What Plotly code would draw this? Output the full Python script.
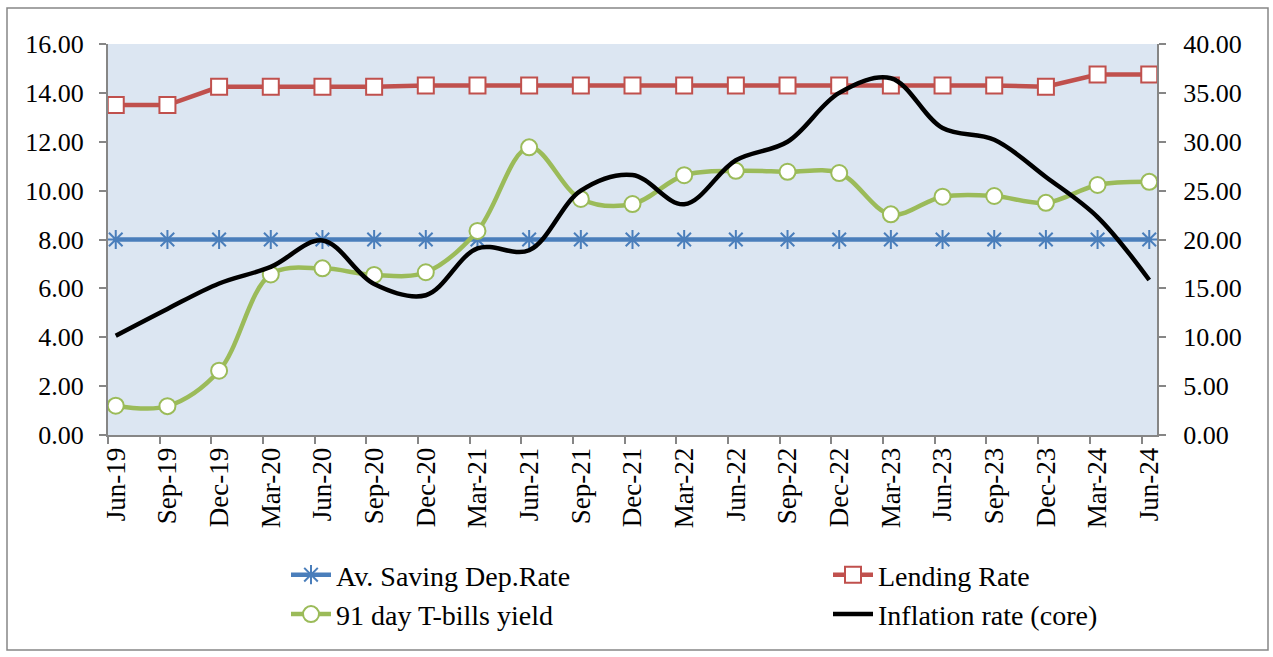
import plotly.graph_objects as go

categories = ["Jun-19", "Sep-19", "Dec-19", "Mar-20", "Jun-20", "Sep-20", "Dec-20",
              "Mar-21", "Jun-21", "Sep-21", "Dec-21", "Mar-22", "Jun-22", "Sep-22",
              "Dec-22", "Mar-23", "Jun-23", "Sep-23", "Dec-23", "Mar-24", "Jun-24"]

saving_rate = [8.0] * 21
lending_rate = [13.5, 13.5, 14.25, 14.25, 14.25, 14.25, 14.3, 14.3, 14.3, 14.3, 14.3,
                14.3, 14.3, 14.3, 14.3, 14.3, 14.3, 14.3, 14.25, 14.75, 14.75]
tbill_yield = [1.2, 1.18, 2.63, 6.57, 6.82, 6.55, 6.66, 8.35, 11.77, 9.66, 9.45,
               10.63, 10.81, 10.77, 10.72, 9.03, 9.75, 9.78, 9.5, 10.23, 10.36]
inflation_core = [10.16, 12.9, 15.5, 17.2, 19.9, 15.45, 14.3, 19.1, 18.9, 25.0, 26.6,
                  23.6, 28.1, 30.0, 35.0, 36.5, 31.4, 30.2, 26.4, 22.3, 15.86]

x = list(range(len(categories)))
FONT = "Liberation Serif"

# plot area in pixels
L, R, T, B = 108, 1157, 44, 435
W, H = 1273, 657
PW, PH = R - L, B - T


def px_x(p):
    return (p - L) / PW


def px_y(p):
    return (B - p) / PH


fig = go.Figure()
fig.add_trace(go.Scatter(
    x=x, y=saving_rate, name="Av. Saving Dep.Rate", mode="lines+markers",
    line=dict(color="#4A7EBB", width=4.5),
    marker=dict(symbol="asterisk-open", size=16, color="#4A7EBB",
                line=dict(color="#4A7EBB", width=2)),
    legend="legend",
))
fig.add_trace(go.Scatter(
    x=x, y=lending_rate, name="Lending Rate", mode="lines+markers",
    line=dict(color="#C0504D", width=4.5),
    marker=dict(symbol="square", size=16, color="white",
                line=dict(color="#C0504D", width=2)),
    legend="legend2",
))
fig.add_trace(go.Scatter(
    x=x, y=tbill_yield, name="91 day T-bills yield", mode="lines+markers",
    line=dict(color="#9BBB59", width=4.5, shape="spline", smoothing=1),
    marker=dict(symbol="circle", size=16, color="white",
                line=dict(color="#9BBB59", width=2)),
    legend="legend",
))
fig.add_trace(go.Scatter(
    x=x, y=inflation_core, name="Inflation rate (core)", mode="lines",
    line=dict(color="black", width=4.5, shape="spline", smoothing=1),
    yaxis="y2",
    legend="legend2",
))

axis_col = "#868686"
leg_common = dict(
    orientation="v", xanchor="left", yanchor="top",
    font=dict(size=28, family=FONT), bgcolor="rgba(0,0,0,0)",
    itemwidth=40, tracegroupgap=0,
)
fig.update_layout(
    width=W, height=H,
    margin=dict(l=L, r=W - R, t=T, b=H - B, autoexpand=False),
    paper_bgcolor="white",
    plot_bgcolor="#DCE6F2",
    font=dict(family=FONT, size=26, color="black"),
    xaxis=dict(
        range=[-0.15, 20.15], tickmode="array", tickvals=x, ticktext=categories,
        tickangle=-90, ticks="", showgrid=False, zeroline=False,
        showline=True, linecolor=axis_col, linewidth=2,
        tickfont=dict(size=27, family=FONT),
        minor=dict(tickmode="linear", tick0=-0.15, dtick=1, ticks="outside",
                   ticklen=7, tickcolor=axis_col, tickwidth=2, showgrid=False),
        ticklabelstandoff=0,
    ),
    yaxis=dict(
        range=[0, 16], dtick=2, tickformat=".2f", showgrid=False, zeroline=False,
        showline=True, linecolor=axis_col, linewidth=2,
        ticks="outside", ticklen=7, tickcolor=axis_col, tickwidth=2,
        tickfont=dict(size=26, family=FONT), ticklabelstandoff=10,
    ),
    yaxis2=dict(
        range=[0, 40], dtick=5, tickformat=".2f", overlaying="y", side="right",
        showgrid=False, zeroline=False,
        showline=True, linecolor=axis_col, linewidth=2,
        ticks="outside", ticklen=7, tickcolor=axis_col, tickwidth=2,
        tickfont=dict(size=26, family=FONT), ticklabelstandoff=12,
    ),
    legend=dict(x=px_x(286), y=px_y(550), **leg_common),
    legend2=dict(x=px_x(828), y=px_y(550), **leg_common),
    showlegend=True,
)

# outer chart border
fig.add_shape(type="rect", xref="paper", yref="paper",
              x0=px_x(7), x1=px_x(1268), y0=px_y(650), y1=px_y(8),
              line=dict(color=axis_col, width=1.5), fillcolor="rgba(0,0,0,0)",
              layer="below")

fig.write_html("out.html", config={"displayModeBar": False},
               post_script="document.body.style.margin='0';")
